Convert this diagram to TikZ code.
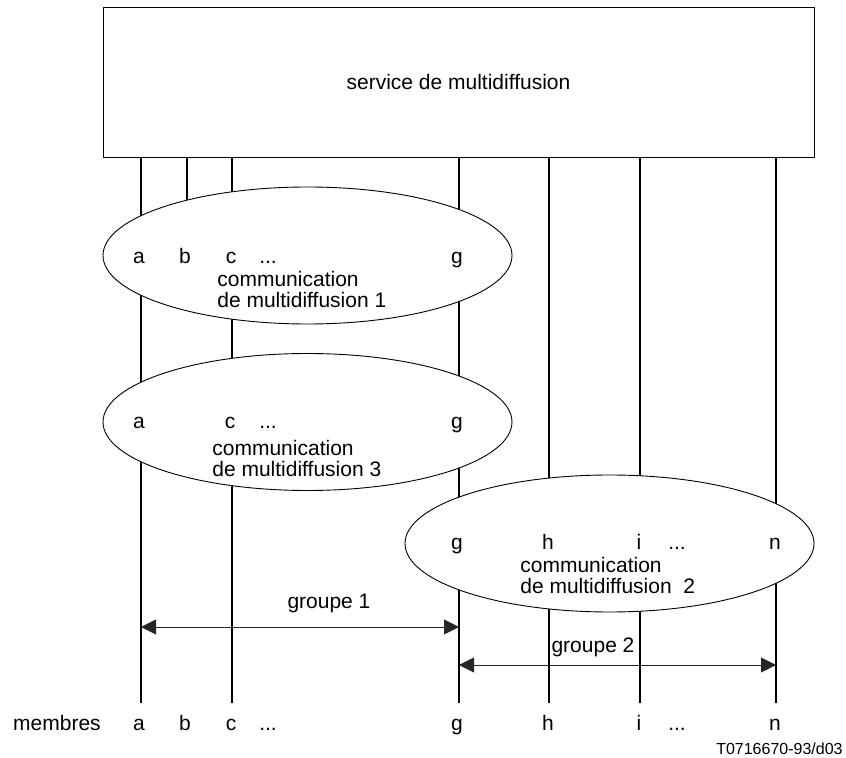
\documentclass[tikz,border=0pt]{standalone}
\usepackage{fontspec}
\setmainfont{Liberation Sans}
\usetikzlibrary{shapes.geometric, arrows.meta}
\tikzstyle{servicebox} = [rectangle, 
minimum width=355.5pt, 
minimum height=75pt, 
text centered, 
draw=black, 
line width=0.45pt]
\tikzstyle{comm} = [ellipse, 
minimum width=204.5pt, 
minimum height=68.5pt, 
inner sep=0pt, 
draw=black, 
line width=0.45pt, 
fill=white]
\tikzstyle{member} = [line width=0.65pt]
\tikzstyle{tag} = [anchor=base, inner sep=0pt]
\tikzstyle{commtext} = [anchor=base west, inner sep=0pt, align=left]
\tikzstyle{arrow} = [line width=0.45pt, black!85, 
{Triangle[length=7.5pt,width=7.5pt]}-{Triangle[length=7.5pt,width=7.5pt]}]

\begin{document}
\begin{tikzpicture}[x=0.5pt, y=-0.5pt, font=\fontsize{10.5}{10.5}\selectfont]

\useasboundingbox (0,0) rectangle (846,758);

% ends of the member lines
\coordinate (ea) at (141,703);
\coordinate (eb) at (187,703);
\coordinate (ec) at (232,703);
\coordinate (eg) at (459,703);
\coordinate (eh) at (549,703);
\coordinate (ei) at (640,703);
\coordinate (en) at (776,703);

% centres of the communications
\coordinate (c1) at (307.5,255.5);
\coordinate (c3) at (307.5,422);
\coordinate (c2) at (609.5,543.5);

\node (service) [servicebox] at (458.5,82) {service de multidiffusion};

\draw [member] (service.south -| ea) -- (ea);
\draw [member] (service.south -| eb) -- (eb |- c1);
\draw [member] (service.south -| ec) -- (ec);
\draw [member] (service.south -| eg) -- (eg);
\draw [member] (service.south -| eh) -- (eh);
\draw [member] (service.south -| ei) -- (ei);
\draw [member] (service.south -| en) -- (en);

\node (comm1) [comm] at (c1) {};
\node (comm3) [comm] at (c3) {};
\node (comm2) [comm] at (c2) {};

% communication 1
\node (k1a) [tag] at (139,264) {a};
\node (k1b) [tag] at (185,264) {b};
\node (k1c) [tag] at (231,264) {c};
\node (k1d) [tag] at (268,264) {...};
\node (k1g) [tag] at (457,264) {g};
\node (t1) [commtext] at (217,308) {communication\\de multidiffusion 1};

% communication 3
\node (k3a) [tag] at (139,429) {a};
\node (k3c) [tag] at (230,429) {c};
\node (k3d) [tag] at (268,429) {...};
\node (k3g) [tag] at (457,429) {g};
\node (t3) [commtext] at (212,477) {communication\\de multidiffusion 3};

% communication 2
\node (k2g) [tag] at (457,550) {g};
\node (k2h) [tag] at (548,550) {h};
\node (k2i) [tag] at (639,550) {i};
\node (k2d) [tag] at (677,550) {...};
\node (k2n) [tag] at (775,550) {n};
\node (t2) [commtext] at (520,594) {communication\\de multidiffusion\ \ 2};

% groups
\coordinate (g1l) at (141,627);
\coordinate (g1r) at (459,627);
\coordinate (g2l) at (459,665);
\coordinate (g2r) at (776,665);
\draw [arrow] (g1l) -- (g1r);
\draw [arrow] (g2l) -- (g2r);
\node (grp1) [tag] at (329,609) {groupe 1};
\node (grp2) [tag] at (593,653) {groupe 2};

% members
\node (membres) [tag] at (57,730) {membres};
\node (ma) [tag] at (139,730) {a};
\node (mb) [tag] at (185,730) {b};
\node (mc) [tag] at (231,730) {c};
\node (md) [tag] at (268,730) {...};
\node (mg) [tag] at (457,730) {g};
\node (mh) [tag] at (548,730) {h};
\node (mi) [tag] at (639,730) {i};
\node (mdd) [tag] at (677,730) {...};
\node (mn) [tag] at (775,730) {n};

\node (ref) [anchor=base east, inner sep=0pt, font=\fontsize{8}{8}\selectfont] at (843,754) {T0716670-93/d03};

\end{tikzpicture}
\end{document}
